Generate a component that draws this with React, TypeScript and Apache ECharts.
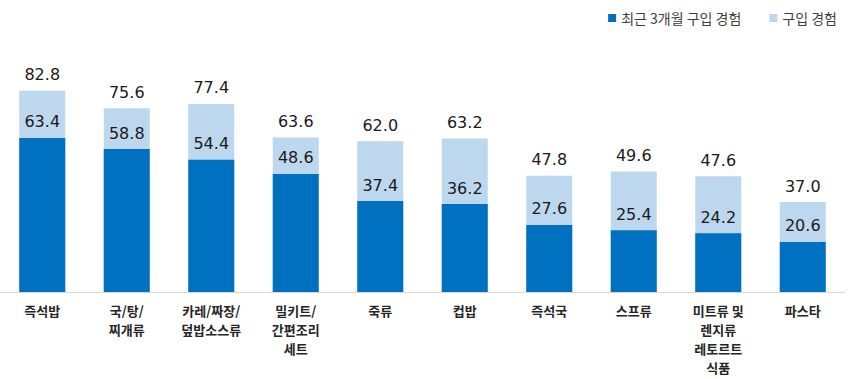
import React, { useEffect, useRef } from "react";
import * as echarts from "echarts";

const categories = [
  "즉석밥",
  "국/탕/\n찌개류",
  "카레/짜장/\n덮밥소스류",
  "밀키트/\n간편조리\n세트",
  "죽류",
  "컵밥",
  "즉석국",
  "스프류",
  "미트류 및\n렌지류\n레토르트\n식품",
  "파스타",
];
const recent3m = [63.4, 58.8, 54.4, 48.6, 37.4, 36.2, 27.6, 25.4, 24.2, 20.6];
const everPurchased = [82.8, 75.6, 77.4, 63.6, 62.0, 63.2, 47.8, 49.6, 47.6, 37.0];

const FONT = "'Noto Sans CJK KR', 'Noto Sans', sans-serif";
const NUM_FONT = "'DejaVu Sans', 'Noto Sans CJK KR', sans-serif";

export default function App() {
  const ref = useRef<HTMLDivElement>(null);
  useEffect(() => {
    document.body.style.margin = "0";
    const chart = echarts.init(ref.current!, undefined, { renderer: "svg" });
    const label = {
      show: true,
      position: "top",
      distance: 8,
      fontSize: 16,
      color: "#1a1a1a",
      fontFamily: NUM_FONT,
      formatter: (p: any) => p.value.toFixed(1),
    };
    chart.setOption({
      animation: false,
      textStyle: { fontFamily: FONT },
      legend: {
        data: ["최근 3개월 구입 경험", "구입 경험"],
        right: 8,
        top: 6,
        icon: "rect",
        itemWidth: 8,
        itemHeight: 8,
        itemGap: 28,
        textStyle: { fontSize: 14, color: "#404040", fontFamily: FONT },
      },
      grid: { left: 0, right: 5, top: 49, bottom: 87, containLabel: false },
      xAxis: {
        type: "category",
        data: categories,
        axisTick: { show: false },
        axisLine: { lineStyle: { color: "#d9d9d9" } },
        axisLabel: {
          interval: 0,
          margin: 9,
          color: "#262626",
          fontSize: 13,
          fontWeight: "bold",
          lineHeight: 19,
          fontFamily: FONT,
        },
      },
      yAxis: {
        type: "value",
        min: 0,
        max: 100,
        show: false,
        splitLine: { show: false },
      },
      series: [
        {
          name: "구입 경험",
          type: "bar",
          data: everPurchased,
          barWidth: 46,
          itemStyle: { color: "#BDD7EE" },
          label,
        },
        {
          name: "최근 3개월 구입 경험",
          type: "bar",
          data: recent3m,
          barWidth: 46,
          barGap: "-100%",
          itemStyle: { color: "#0070C0" },
          label,
        },
      ],
    });
    return () => chart.dispose();
  }, []);
  return <div ref={ref} style={{ width: 850, height: 379 }} />;
}
